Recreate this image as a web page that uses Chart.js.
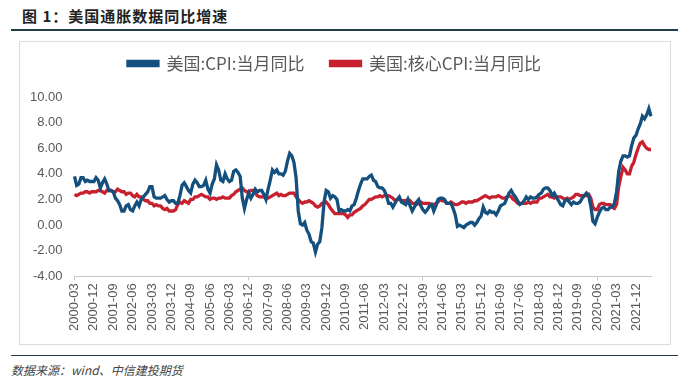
<!DOCTYPE html>
<html>
<head>
<meta charset="utf-8">
<script src="https://cdn.jsdelivr.net/npm/chart.js@4.4.0/dist/chart.umd.min.js"></script>
<style>
  body { margin: 0; width: 685px; height: 387px; background: #fff; position: relative; overflow: hidden; font-family: "Noto Sans CJK SC", sans-serif; }
  #title { position: absolute; left: 22px; top: 5px; font-size: 15px; font-weight: bold; color: #222; letter-spacing: 1px; }
  #topline { position: absolute; left: 11px; top: 29px; width: 667px; height: 2px; background: #233c4a; }
  #box { position: absolute; left: 19px; top: 41px; width: 650px; height: 302px; border: 1px solid #dcdcdc; }
  #cpiChart { position: absolute; left: 19px; top: 29px; }
  #botline { position: absolute; left: 11px; top: 355px; width: 667px; height: 1px; background: #233c4a; }
  #source { position: absolute; left: 11px; top: 361px; font-size: 12px; font-style: italic; color: #444; }
</style>
</head>
<body>
<div id="title">图 1：美国通胀数据同比增速</div>
<div id="topline"></div>
<div id="box"></div>
<canvas id="cpiChart" width="651" height="315"></canvas>
<div id="botline"></div>
<div id="source">数据来源：wind、中信建投期货</div>
<script>
// 月份：2000-03 ~ 2022-07
const months = [];
for (let y = 2000; y <= 2022; y++) {
  for (let m = 1; m <= 12; m++) {
    if (y === 2000 && m < 3) continue;
    if (y === 2022 && m > 7) break;
    months.push(y + "-" + String(m).padStart(2, "0"));
  }
}

// 美国:CPI:当月同比 (%)
const cpi = [
  3.8, 3.1, 3.2, 3.7, 3.7, 3.4, 3.5, 3.4, 3.4, 3.4,
  3.7, 3.5, 2.9, 3.3, 3.6, 3.2, 2.7, 2.7, 2.6, 2.1, 1.9, 1.6,
  1.1, 1.1, 1.5, 1.6, 1.2, 1.1, 1.5, 1.8, 1.5, 2.0, 2.2, 2.4,
  2.6, 3.0, 3.0, 2.2, 2.1, 2.1, 2.1, 2.2, 2.3, 2.0, 1.8, 1.9,
  1.9, 1.7, 1.7, 2.3, 3.1, 3.3, 3.0, 2.7, 2.5, 3.2, 3.5, 3.3,
  3.0, 3.0, 3.1, 3.5, 2.8, 2.5, 3.2, 3.6, 4.7, 4.3, 3.5, 3.4,
  4.0, 3.6, 3.4, 3.5, 4.2, 4.3, 4.1, 3.8, 2.1, 1.3, 2.0, 2.5,
  2.1, 2.4, 2.8, 2.6, 2.7, 2.7, 2.4, 2.0, 2.8, 3.5, 4.3, 4.1,
  4.3, 4.0, 4.0, 3.9, 4.2, 5.0, 5.6, 5.4, 4.9, 3.7, 1.1, 0.1,
  0.0, 0.2, -0.4, -0.7, -1.3, -1.4, -2.1, -1.5, -1.3, -0.2, 1.8, 2.7,
  2.6, 2.1, 2.3, 2.2, 2.0, 1.1, 1.2, 1.1, 1.1, 1.2, 1.1, 1.5,
  1.6, 2.1, 2.7, 3.2, 3.6, 3.6, 3.6, 3.8, 3.9, 3.5, 3.4, 3.0,
  2.9, 2.9, 2.7, 2.3, 1.7, 1.7, 1.4, 1.7, 2.0, 2.2, 1.8, 1.7,
  1.6, 2.0, 1.5, 1.1, 1.4, 1.8, 2.0, 1.5, 1.2, 1.0, 1.2, 1.5,
  1.6, 1.1, 1.5, 2.0, 2.1, 2.1, 2.0, 1.7, 1.7, 1.7, 1.3, 0.8,
  -0.1, 0.0, -0.1, -0.2, 0.0, 0.1, 0.2, 0.2, 0.0, 0.2, 0.5, 0.7,
  1.4, 1.0, 0.9, 1.1, 1.0, 1.0, 0.8, 1.1, 1.5, 1.6, 1.7, 2.1,
  2.5, 2.7, 2.4, 2.2, 1.9, 1.6, 1.7, 1.9, 2.2, 2.0, 2.2, 2.1,
  2.1, 2.2, 2.4, 2.5, 2.8, 2.9, 2.9, 2.7, 2.3, 2.5, 2.2, 1.9,
  1.6, 1.5, 1.9, 2.0, 1.8, 1.6, 1.8, 1.7, 1.7, 1.8, 2.1, 2.3,
  2.5, 2.3, 1.5, 0.3, 0.1, 0.6, 1.0, 1.3, 1.4, 1.2, 1.2, 1.4,
  1.4, 1.7, 2.6, 4.2, 5.0, 5.4, 5.4, 5.3, 5.4, 6.2, 6.8, 7.0,
  7.5, 7.9, 8.5, 8.3, 8.6, 9.1, 8.5,
];

// 美国:核心CPI:当月同比 (%)
const coreCpi = [
  2.4, 2.3, 2.4, 2.5, 2.5, 2.6, 2.6, 2.5, 2.6, 2.6,
  2.6, 2.7, 2.7, 2.6, 2.5, 2.7, 2.7, 2.7, 2.6, 2.6, 2.8, 2.7,
  2.6, 2.6, 2.4, 2.5, 2.5, 2.3, 2.2, 2.4, 2.2, 2.2, 2.0, 1.9,
  1.9, 1.7, 1.7, 1.5, 1.6, 1.5, 1.5, 1.3, 1.2, 1.3, 1.1, 1.1,
  1.1, 1.2, 1.6, 1.8, 1.7, 1.9, 1.8, 1.7, 2.0, 2.0, 2.2, 2.2,
  2.3, 2.4, 2.3, 2.2, 2.2, 2.0, 2.1, 2.1, 2.0, 2.1, 2.1, 2.2,
  2.1, 2.1, 2.1, 2.3, 2.4, 2.6, 2.7, 2.8, 2.9, 2.7, 2.6, 2.6,
  2.7, 2.7, 2.5, 2.3, 2.2, 2.2, 2.2, 2.1, 2.1, 2.2, 2.3, 2.4,
  2.5, 2.3, 2.4, 2.3, 2.3, 2.4, 2.5, 2.5, 2.5, 2.2, 2.0, 1.8,
  1.7, 1.8, 1.8, 1.9, 1.8, 1.7, 1.5, 1.4, 1.5, 1.7, 1.7, 1.8,
  1.6, 1.3, 1.1, 0.9, 0.9, 0.9, 0.9, 0.9, 0.8, 0.6, 0.8, 0.8,
  1.0, 1.1, 1.2, 1.3, 1.5, 1.6, 1.8, 2.0, 2.0, 2.1, 2.2, 2.2,
  2.3, 2.2, 2.3, 2.3, 2.3, 2.2, 2.1, 1.9, 2.0, 2.0, 1.9, 1.9,
  1.9, 2.0, 1.9, 1.7, 1.7, 1.6, 1.7, 1.8, 1.7, 1.7, 1.7, 1.7,
  1.6, 1.6, 1.7, 1.8, 2.0, 1.9, 1.9, 1.7, 1.7, 1.8, 1.7, 1.6,
  1.6, 1.7, 1.8, 1.8, 1.7, 1.8, 1.8, 1.8, 1.9, 1.9, 2.0, 2.1,
  2.2, 2.3, 2.2, 2.1, 2.2, 2.2, 2.2, 2.3, 2.2, 2.1, 2.1, 2.2,
  2.3, 2.2, 2.0, 1.9, 1.7, 1.7, 1.7, 1.7, 1.7, 1.8, 1.7, 1.8,
  1.8, 1.8, 2.1, 2.1, 2.2, 2.3, 2.4, 2.2, 2.2, 2.1, 2.2, 2.2,
  2.2, 2.1, 2.0, 2.1, 2.0, 2.1, 2.2, 2.4, 2.4, 2.3, 2.3, 2.3,
  2.3, 2.4, 2.1, 1.4, 1.2, 1.2, 1.6, 1.7, 1.7, 1.6, 1.6, 1.6,
  1.4, 1.3, 1.6, 3.0, 3.8, 4.5, 4.3, 4.0, 4.0, 4.6, 4.9, 5.5,
  6.0, 6.4, 6.5, 6.2, 6.0, 5.9, 5.9,
];

const yTicks = [-4, -2, 0, 2, 4, 6, 8, 10];
const labelEvery = 9;

// 图例下方多留一点空白
const legendGap = {
  id: "legendGap",
  beforeInit(chart) {
    const origFit = chart.legend.fit;
    chart.legend.fit = function () {
      origFit.bind(chart.legend)();
      this.height += 15;
    };
  },
};

const ctx = document.getElementById("cpiChart").getContext("2d");
new Chart(ctx, {
  type: "line",
  data: {
    labels: months,
    datasets: [
      {
        label: "美国:CPI:当月同比",
        data: cpi,
        borderColor: "#14507e",
        backgroundColor: "#14507e",
        borderWidth: 3.3,
        pointRadius: 0,
        tension: 0,
      },
      {
        label: "美国:核心CPI:当月同比",
        data: coreCpi,
        borderColor: "#c8202f",
        backgroundColor: "#c8202f",
        borderWidth: 3.3,
        pointRadius: 0,
        tension: 0,
      },
    ],
  },
  plugins: [legendGap],
  options: {
    responsive: false,
    animation: false,
    layout: { padding: { top: 0, right: 19, bottom: 10, left: -1 } },
    plugins: {
      legend: {
        position: "top",
        labels: {
          boxWidth: 30,
          boxHeight: 4,
          padding: 26,
          color: "#595959",
          font: { family: "'Noto Sans CJK SC'", size: 17 },
        },
      },
      tooltip: { enabled: false },
    },
    scales: {
      x: {
        offset: false,
        grid: {
          drawOnChartArea: false,
          drawTicks: true,
          tickLength: 4,
          color: (c) => (c.index % labelEvery === 0 ? "#c8c8c8" : "transparent"),
        },
        border: { color: "#c8c8c8" },
        ticks: {
          autoSkip: false,
          maxRotation: 90,
          minRotation: 90,
          color: "#595959",
          font: { family: "'Liberation Sans'", size: 13 },
          callback: (v, i) => (i % labelEvery === 0 ? months[i] : null),
        },
      },
      y: {
        min: -4,
        max: 10,
        afterBuildTicks: (axis) => {
          axis.ticks = yTicks.map((v) => ({ value: v }));
        },
        grid: { display: false, drawTicks: false },
        border: { display: false },
        ticks: {
          color: "#595959",
          padding: 12,
          font: { family: "'Liberation Sans'", size: 13 },
          callback: (v) => v.toFixed(2),
        },
      },
    },
  },
});
</script>
</body>
</html>
